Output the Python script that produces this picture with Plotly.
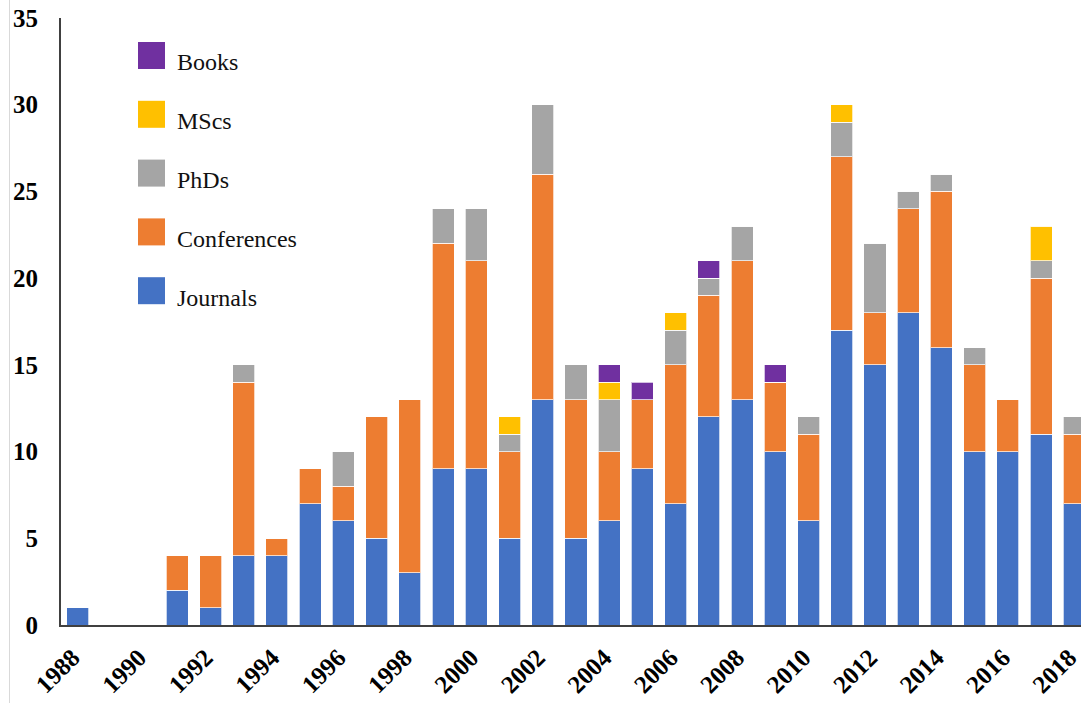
import plotly.graph_objects as go

years = list(range(1988, 2019))
journals    = [1, 0, 0, 2, 1, 4, 4, 7, 6, 5, 3, 9, 9, 5, 13, 5, 6, 9, 7, 12, 13, 10, 6, 17, 15, 18, 16, 10, 10, 11, 7]
conferences = [0, 0, 0, 2, 3, 10, 1, 2, 2, 7, 10, 13, 12, 5, 13, 8, 4, 4, 8, 7, 8, 4, 5, 10, 3, 6, 9, 5, 3, 9, 4]
phds        = [0, 0, 0, 0, 0, 1, 0, 0, 2, 0, 0, 2, 3, 1, 4, 2, 3, 0, 2, 1, 2, 0, 1, 2, 4, 1, 1, 1, 0, 1, 1]
mscs        = [0, 0, 0, 0, 0, 0, 0, 0, 0, 0, 0, 0, 0, 1, 0, 0, 1, 0, 1, 0, 0, 0, 0, 1, 0, 0, 0, 0, 0, 2, 0]
books       = [0, 0, 0, 0, 0, 0, 0, 0, 0, 0, 0, 0, 0, 0, 0, 0, 1, 1, 0, 1, 0, 1, 0, 0, 0, 0, 0, 0, 0, 0, 0]

series_names = ["Journals", "Conferences", "PhDs", "MScs", "Books"]
series_values = [journals, conferences, phds, mscs, books]
series_colors = ["#4472C4", "#ED7D31", "#A5A5A5", "#FFC000", "#7030A0"]

FONT = "Liberation Serif"

fig = go.Figure()
for name, vals, col in zip(series_names, series_values, series_colors):
    fig.add_trace(go.Bar(
        x=years, y=vals, name=name,
        marker=dict(color=col, line=dict(color="rgba(255,255,255,0.7)", width=1)),
        showlegend=False,
    ))

# plot area geometry (pixels) for manual legend
W, H = 1081, 703
ml, mr, mt, mb = 61, 0, 18, 78
pw = W - ml - mr
ph = H - mt - mb

def px_to_paper_x(px):
    return (px - ml) / pw

def px_to_paper_y(py):
    return (H - mb - py) / ph

shapes = []
annotations = []
legend_order = ["Books", "MScs", "PhDs", "Conferences", "Journals"]
color_map = dict(zip(series_names, series_colors))
for i, name in enumerate(legend_order):
    top = 42 + i * 58.8
    shapes.append(dict(
        type="rect", xref="paper", yref="paper",
        x0=px_to_paper_x(138), x1=px_to_paper_x(165),
        y0=px_to_paper_y(top + 27), y1=px_to_paper_y(top),
        fillcolor=color_map[name], line=dict(width=0),
    ))
    annotations.append(dict(
        text=name, xref="paper", yref="paper",
        x=px_to_paper_x(175), y=px_to_paper_y(top + 20.5),
        xanchor="left", yanchor="middle", showarrow=False,
        font=dict(family=FONT, size=24, color="#111111"),
    ))

# faint chart border line on the left
shapes.append(dict(
    type="line", xref="paper", yref="paper",
    x0=px_to_paper_x(9.5), x1=px_to_paper_x(9.5),
    y0=px_to_paper_y(H), y1=px_to_paper_y(0),
    line=dict(color="#D9D9D9", width=1),
))

fig.update_layout(
    width=W, height=H,
    barmode="stack", bargap=0.337,
    plot_bgcolor="white", paper_bgcolor="white",
    margin=dict(l=ml, r=mr, t=mt, b=mb, pad=0, autoexpand=False),
    shapes=shapes, annotations=annotations,
    font=dict(family=FONT, color="#000000"),
)
fig.update_xaxes(
    range=[1987.5, 2018.2], tick0=1988, dtick=2, tickangle=-45,
    showgrid=False, zeroline=False, automargin=False,
    showline=True, linecolor="#404040", linewidth=2,
    ticks="", ticklabelstandoff=6, ticklabelshift=-5, ticklabeloverflow="allow",
    tickfont=dict(family=FONT, size=25, color="#000000", weight="bold"),
)
fig.update_yaxes(
    range=[0, 35], dtick=5,
    showgrid=False, zeroline=False, automargin=False,
    showline=True, linecolor="#404040", linewidth=2,
    ticks="", ticklabelstandoff=16,
    tickfont=dict(family=FONT, size=25, color="#000000", weight="bold"),
)

fig.write_html(
    "out.html",
    config={"displayModeBar": False},
    post_script="document.body.style.margin='0';document.body.style.overflow='hidden';",
)
